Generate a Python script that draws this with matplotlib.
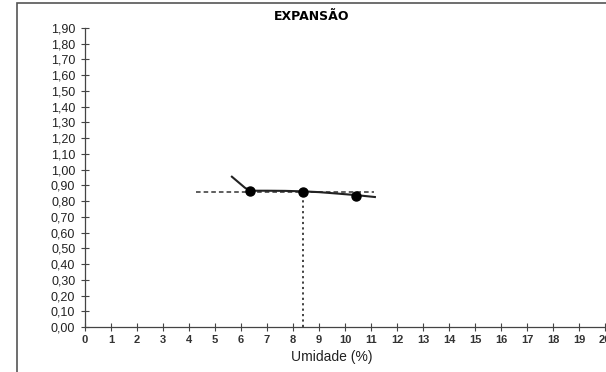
import matplotlib
matplotlib.use("Agg")
import matplotlib.pyplot as plt
from matplotlib.patches import Rectangle

plt.rcParams['font.family'] = ['Liberation Sans', 'DejaVu Sans']

# Data
umidade_pts = [6.36, 8.38, 10.43]
expansao_pts = [0.862, 0.860, 0.834]

curve_x = [5.65, 5.9, 6.15, 6.36, 7.0, 7.7, 8.38, 9.0, 9.7, 10.43, 11.15]
curve_y = [0.955, 0.920, 0.885, 0.866, 0.866, 0.865, 0.862, 0.857, 0.848, 0.838, 0.826]

ref_umidade = 8.38
ref_expansao = 0.860
ref_line_x = [4.28, 11.13]

x_ticks = list(range(0, 21))
y_ticks = [round(0.1 * i, 2) for i in range(0, 20)]
y_tick_labels = [f"{v:.2f}".replace('.', ',') for v in y_ticks]

title = "EXPANSÃO"
xlabel = "Umidade (%)"

fig = plt.figure(figsize=(6.06, 3.72), dpi=100)
ax = fig.add_axes([85/606, 1-327/372, 520/606, (327-28)/372])

# outer frame of the chart
fig.add_artist(Rectangle((17/606, -0.1), 1.0, (1-3/372)+0.1, transform=fig.transFigure,
                         fill=False, edgecolor='#555555', lw=1.2))

ax.plot(curve_x, curve_y, color='#222222', lw=1.5, zorder=3)
ax.plot(ref_line_x, [ref_expansao, ref_expansao], color='#333333', lw=1.1,
        ls=(0, (3, 2)), zorder=2)
ax.plot([ref_umidade, ref_umidade], [0, ref_expansao], color='#333333', lw=1.3,
        ls=(0, (1.2, 1.8)), zorder=2)
ax.plot(umidade_pts, expansao_pts, 'o', color='black', ms=6.5, zorder=4)

ax.set_xlim(0, 20)
ax.set_ylim(0, 1.9)
ax.set_xticks(x_ticks)
ax.set_xticklabels([str(v) for v in x_ticks], fontsize=8, fontweight='bold')
ax.set_yticks(y_ticks)
ax.set_yticklabels(y_tick_labels, fontsize=9)
ax.tick_params(axis='both', direction='inout', length=6, width=0.8, colors='#444444')
ax.tick_params(axis='x', labelcolor='#333333', pad=3)
ax.tick_params(axis='y', labelcolor='#222222', pad=4)
for s in ['top', 'right']:
    ax.spines[s].set_visible(False)
for s in ['left', 'bottom']:
    ax.spines[s].set_color('#444444')
    ax.spines[s].set_linewidth(0.9)

fig.text(312/606, 1-17/372, title, ha='center', va='center', fontsize=9,
         fontweight='bold', family=['DejaVu Sans'])
fig.text(332/606, 1-357/372, xlabel, ha='center', va='center', fontsize=10, color='#222222')

fig.savefig("out.png", dpi=100)
